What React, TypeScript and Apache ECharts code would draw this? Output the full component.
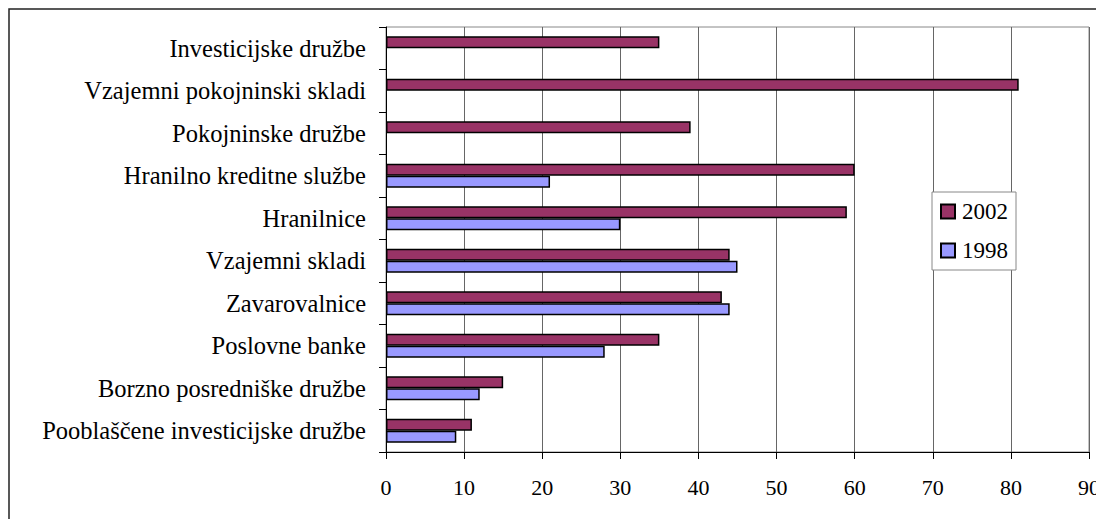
import React, { useEffect, useRef } from "react";
import * as echarts from "echarts";

const categories = [
  "Investicijske družbe",
  "Vzajemni pokojninski skladi",
  "Pokojninske družbe",
  "Hranilno kreditne službe",
  "Hranilnice",
  "Vzajemni skladi",
  "Zavarovalnice",
  "Poslovne banke",
  "Borzno posredniške družbe",
  "Pooblaščene investicijske družbe",
];
const values2002 = [35, 81, 39, 60, 59, 44, 43, 35, 15, 11];
const values1998 = [null, null, null, 21, 30, 45, 44, 28, 12, 9];
const seriesNames = ["2002", "1998"];

const FONT = "Times New Roman, Liberation Serif, DejaVu Serif, serif";

export default function App() {
  const ref = useRef<HTMLDivElement>(null);
  useEffect(() => {
    if (!ref.current) return;
    const chart = echarts.init(ref.current, undefined, { renderer: "svg" });
    chart.setOption({
      animation: false,
      backgroundColor: "#fff",
      textStyle: { fontFamily: FONT, color: "#000" },
      graphic: [
        {
          type: "rect",
          shape: { x: 9, y: 9, width: 1100, height: 520 },
          style: { fill: "none", stroke: "#222", lineWidth: 1.5 },
          z: 100,
        },
      ],
      grid: {
        left: 386,
        right: 7,
        top: 27,
        bottom: 67,
        show: true,
        borderColor: "#888",
        borderWidth: 1,
        containLabel: false,
        outerBoundsMode: "none",
      },
      legend: {
        orient: "vertical",
        left: 932,
        top: 192,
        padding: [8, 8, 8, 8],
        itemWidth: 14,
        itemHeight: 14,
        itemGap: 16,
        borderColor: "#888",
        borderWidth: 1,
        backgroundColor: "#fff",
        icon: "rect",
        data: seriesNames,
        textStyle: {
          fontFamily: FONT,
          fontSize: 23,
          lineHeight: 22,
          color: "#000",
          padding: [0, 0, 0, 2],
        },
      },
      xAxis: {
        type: "value",
        min: 0,
        max: 90,
        interval: 10,
        axisLine: { show: true, lineStyle: { color: "#000", width: 1 } },
        axisTick: { show: true, length: 7, lineStyle: { color: "#000" } },
        splitLine: { show: true, lineStyle: { color: "#666", width: 1 } },
        axisLabel: {
          fontFamily: FONT,
          fontSize: 22,
          color: "#000",
          margin: 24,
        },
      },
      yAxis: {
        type: "category",
        inverse: true,
        data: categories,
        axisLine: { show: true, lineStyle: { color: "#000", width: 1 } },
        axisTick: { show: true, length: 7, lineStyle: { color: "#000" } },
        splitLine: { show: false },
        axisLabel: {
          fontFamily: FONT,
          fontSize: 24.5,
          color: "#000",
          margin: 20,
        },
      },
      series: [
        {
          name: seriesNames[0],
          type: "bar",
          data: values2002,
          barWidth: 12,
          barGap: "0%",
          itemStyle: { color: "#993366", borderColor: "#000", borderWidth: 1.5 },
        },
        {
          name: seriesNames[1],
          type: "bar",
          data: values1998,
          barWidth: 12,
          barGap: "0%",
          itemStyle: { color: "#9999FF", borderColor: "#000", borderWidth: 1.5 },
        },
      ],
    });
    return () => chart.dispose();
  }, []);
  return (
    <div
      ref={ref}
      style={{ position: "fixed", left: 0, top: 0, width: 1096, height: 519 }}
    />
  );
}
